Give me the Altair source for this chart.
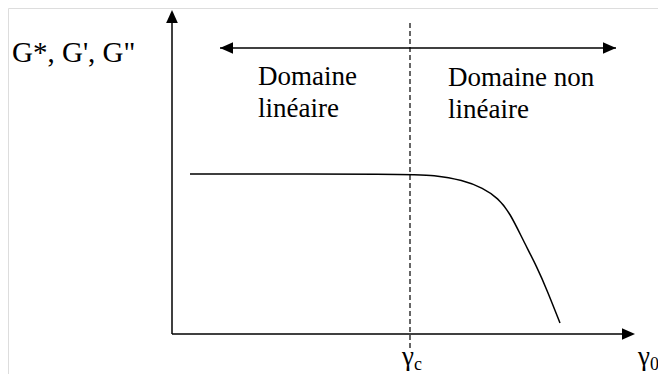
import altair as alt
import pandas as pd

# Schematic units: origin at the axes' crossing, 1 unit ~ 1 px
curve_x = [18, 238, 261, 291, 311, 326, 338, 351, 365, 375, 388]
curve_y = [160, 160, 159, 154, 146, 136, 121, 94, 67, 44, 11]

# segments: x, y, x2, y2, dashed
seg_x = [0, 0, 48, 238]
seg_y = [0, 0, 286, -14]
seg_x2 = [0, 458, 444, 238]
seg_y2 = [318, 0, 286, 314]
seg_dash = ["solid", "solid", "solid", "dash"]

# arrowheads: centre and pointing angle
head_x = [0, 456.5, 54.5, 437.5]
head_y = [317.5, 0, 286, 286]
head_angle = [0, 90, 270, 90]

# labels
lab_text = ["G*, G', G\"", "Domaine", "linéaire", "Domaine non", "linéaire", "γ", "γ"]
lab_size = [29, 27, 27, 27, 27, 27, 27]
lab_x = [-160, 86, 86, 276, 276, 230, 466]
lab_y = [272, 249, 217, 248, 216, -31, -31]
sub_text = ["c", "0"]
sub_x = [242, 478]
sub_y = [-36, -36]

XD = [-164, 486]
YD = [-40, 326]
xs = alt.Scale(domain=XD, nice=False, zero=False)
ys = alt.Scale(domain=YD, nice=False, zero=False)
FONT = "Liberation Serif, Times New Roman, serif"

curve_df = pd.DataFrame({"x": curve_x, "y": curve_y})
seg_df = pd.DataFrame({"x": seg_x, "y": seg_y, "x2": seg_x2, "y2": seg_y2, "d": seg_dash})
head_df = pd.DataFrame({"x": head_x, "y": head_y, "a": head_angle})
lab_df = pd.DataFrame({"t": lab_text, "x": lab_x, "y": lab_y, "s": lab_size})
sub_df = pd.DataFrame({"t": sub_text, "x": sub_x, "y": sub_y})

curve = alt.Chart(curve_df).mark_line(
    color="black", strokeWidth=1.5, interpolate="basis"
).encode(
    x=alt.X("x:Q", scale=xs, axis=None),
    y=alt.Y("y:Q", scale=ys, axis=None),
)

solid = alt.Chart(seg_df[seg_df.d == "solid"]).mark_rule(
    color="black", strokeWidth=1.5
).encode(
    x=alt.X("x:Q", scale=xs, axis=None),
    y=alt.Y("y:Q", scale=ys, axis=None),
    x2="x2:Q",
    y2="y2:Q",
)

dashed = alt.Chart(seg_df[seg_df.d == "dash"]).mark_rule(
    color="black", strokeWidth=1.2, strokeDash=[5, 3]
).encode(
    x=alt.X("x:Q", scale=xs, axis=None),
    y=alt.Y("y:Q", scale=ys, axis=None),
    x2="x2:Q",
    y2="y2:Q",
)

heads = alt.Chart(head_df).mark_point(
    shape="M0,-1L0.9,1L-0.9,1Z", filled=True, color="black", opacity=1, size=169
).encode(
    x=alt.X("x:Q", scale=xs, axis=None),
    y=alt.Y("y:Q", scale=ys, axis=None),
    angle=alt.Angle("a:Q", scale=None),
)

labels = alt.Chart(lab_df).mark_text(
    font=FONT, align="left", baseline="alphabetic", color="black"
).encode(
    x=alt.X("x:Q", scale=xs, axis=None),
    y=alt.Y("y:Q", scale=ys, axis=None),
    size=alt.Size("s:Q", scale=None, legend=None),
    text="t:N",
)

subs = alt.Chart(sub_df).mark_text(
    font=FONT, fontSize=18, align="left", baseline="alphabetic", color="black"
).encode(
    x=alt.X("x:Q", scale=xs, axis=None),
    y=alt.Y("y:Q", scale=ys, axis=None),
    text="t:N",
)

chart = alt.layer(solid, dashed, curve, heads, labels, subs).properties(
    width=650, height=366, padding=0, autosize=alt.AutoSizeParams(type="none")
).configure_view(stroke=None).configure(background="white")

chart.save("out.html", embed_options={"renderer": "svg", "actions": False})
